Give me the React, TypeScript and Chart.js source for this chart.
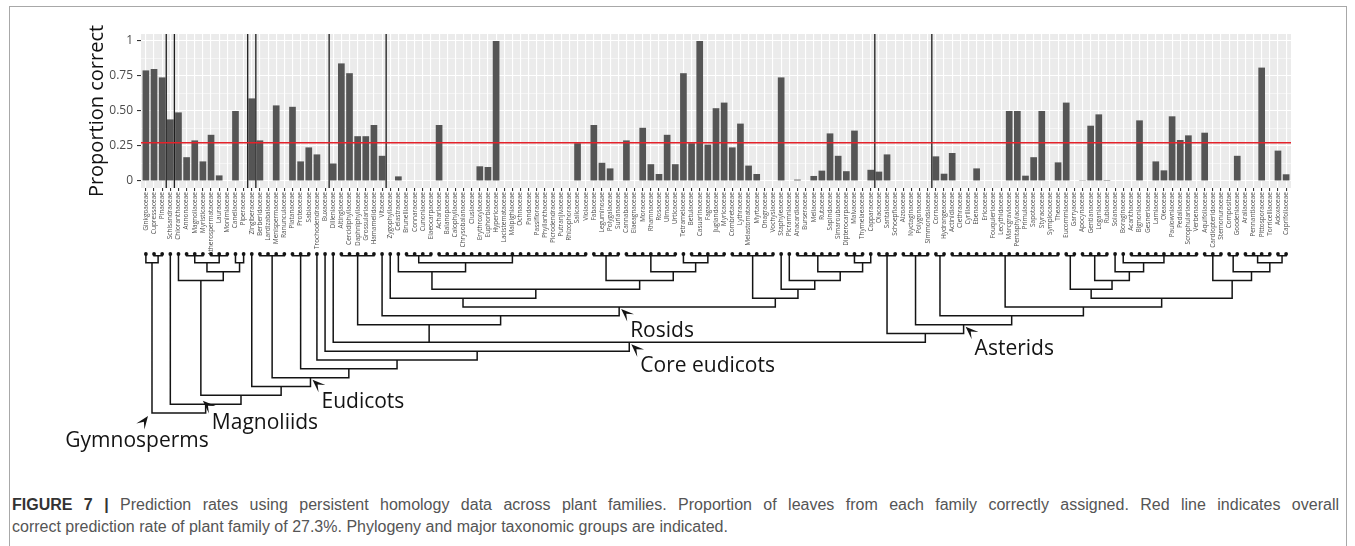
import { useEffect, useRef } from "react";
import { Chart, registerables } from "chart.js";

Chart.register(...registerables);

// Plant families in phylogenetic order (x axis)
const families = [
  "Ginkgoaceae", "Cupressaceae", "Pinaceae", "Schisandraceae", "Chloranthaceae", "Annonaceae",
  "Magnoliaceae", "Myristicaceae", "Atherospermataceae", "Lauraceae", "Monimiaceae", "Canellaceae",
  "Piperaceae", "Zingiberaceae", "Berberidaceae", "Lardizabalaceae", "Menispermaceae", "Ranunculaceae",
  "Platanaceae", "Proteaceae", "Sabiaceae", "Trochodendraceae", "Buxaceae", "Dilleniaceae",
  "Altingiaceae", "Cercidiphyllaceae", "Daphniphyllaceae", "Grossulariaceae", "Hamamelidaceae", "Vitaceae",
  "Zygophyllaceae", "Celastraceae", "Brunelliaceae", "Connaraceae", "Cunoniaceae", "Elaeocarpaceae",
  "Achariaceae", "Balanopaceae", "Calophyllaceae", "Chrysobalanaceae", "Clusiaceae", "Erythroxylaceae",
  "Euphorbiaceae", "Hypericaceae", "Lacistemataceae", "Malpighiaceae", "Ochnaceae", "Pandaceae",
  "Passifloraceae", "Phyllanthaceae", "Picrodendraceae", "Putranjivaceae", "Rhizophoraceae", "Salicaceae",
  "Violaceae", "Fabaceae", "Leguminosae", "Polygalaceae", "Surianaceae", "Cannabaceae",
  "Elaeagnaceae", "Moraceae", "Rhamnaceae", "Rosaceae", "Ulmaceae", "Urticaceae",
  "Tetramelaceae", "Betulaceae", "Casuarinaceae", "Fagaceae", "Juglandaceae", "Myricaceae",
  "Combretaceae", "Lythraceae", "Melastomataceae", "Myrtaceae", "Onagraceae", "Vochysiaceae",
  "Staphyleaceae", "Picramniaceae", "Anacardiaceae", "Burseraceae", "Meliaceae", "Rutaceae",
  "Sapindaceae", "Simaroubaceae", "Dipterocarpaceae", "Malvaceae", "Thymelaeaceae", "Capparaceae",
  "Olacaceae", "Santalaceae", "Schoepfiaceae", "Aizoaceae", "Nyctaginaceae", "Polygonaceae",
  "Simmondsiaceae", "Cornaceae", "Hydrangeaceae", "Actinidiaceae", "Clethraceae", "Cyrillaceae",
  "Ebenaceae", "Ericaceae", "Fouquieriaceae", "Lecythidaceae", "Marcgraviaceae", "Pentaphylacaceae",
  "Primulaceae", "Sapotaceae", "Styracaceae", "Symplocaceae", "Theaceae", "Eucommiaceae",
  "Garryaceae", "Apocynaceae", "Gentianaceae", "Loganiaceae", "Rubiaceae", "Solanaceae",
  "Boraginaceae", "Acanthaceae", "Bignoniaceae", "Gesneriaceae", "Lamiaceae", "Oleaceae",
  "Paulowniaceae", "Pedaliaceae", "Scrophulariaceae", "Verbenaceae", "Aquifoliaceae", "Cardiopteridaceae",
  "Stemonuraceae", "Compositae", "Goodeniaceae", "Araliaceae", "Pennantiaceae", "Pittosporaceae",
  "Torricelliaceae", "Adoxaceae", "Caprifoliaceae",
];

// Proportion of leaves correctly assigned, one value per family
const proportionCorrect = [
  0.79, 0.8, 0.74, 0.44, 0.49, 0.17,
  0.29, 0.14, 0.33, 0.04, 0, 0.5,
  0, 0.59, 0.29, 0, 0.54, 0,
  0.53, 0.14, 0.24, 0.19, 0, 0.125,
  0.84, 0.77, 0.32, 0.32, 0.4, 0.18,
  0, 0.033, 0, 0, 0, 0,
  0.4, 0, 0, 0, 0, 0.105,
  0.1, 1, 0, 0, 0, 0,
  0, 0, 0, 0, 0, 0.27,
  0, 0.4, 0.13, 0.09, 0, 0.29,
  0, 0.38, 0.12, 0.05, 0.33, 0.12,
  0.77, 0.27, 1, 0.26, 0.52, 0.56,
  0.24, 0.41, 0.11, 0.05, 0, 0,
  0.74, 0, 0.01, 0, 0.036, 0.074,
  0.34, 0.18, 0.07, 0.36, 0, 0.08,
  0.067, 0.19, 0, 0, 0, 0,
  0, 0.176, 0.052, 0.2, 0, 0,
  0.09, 0, 0, 0, 0.5, 0.5,
  0.038, 0.17, 0.5, 0, 0.133, 0.56,
  0, 0.006, 0.395, 0.476, 0.007, 0,
  0, 0, 0.433, 0, 0.14, 0.076,
  0.462, 0.293, 0.326, 0, 0.345, 0,
  0, 0, 0.18, 0, 0, 0.81,
  0, 0.217, 0.048,
];

// Overall correct prediction rate (red reference line)
const overallRate = 0.273;

// Y axis breaks
const yMajorTicks = [0, 0.25, 0.5, 0.75, 1];
const yMajorLabels = ["0", "0.25", "0.50", "0.75", "1"];
const yMinorTicks = [0.125, 0.375, 0.625, 0.875];

// Positions (between families) of the black separator lines
const cladeDividers = [2.5, 3.5, 12.5, 13.5, 22.5, 29.5, 89.5, 96.5];

// ---- Phylogeny: internal nodes carry a height rank, leaves are family indices ----
type TreeNode = { h: number; kids: (TreeNode | number)[]; x?: number };
const clade = (h: number, ...kids: (TreeNode | number)[]): TreeNode => ({ h, kids });
const run = (h: number, first: number, last: number): TreeNode => {
  const kids: number[] = [];
  for (let i = first; i <= last; i++) kids.push(i);
  return clade(h, ...kids);
};
const TIP = 0.2;

const gymnosperms = clade(1, 0, clade(TIP, 1, 2));
const magnoliidClade = clade(3, 4, clade(2, clade(1, run(TIP, 5, 7), run(TIP, 8, 10)), clade(1, 11, 12)));
const comClade = clade(2, 31, clade(1, run(TIP, 32, 35), run(TIP, 36, 54)));
const nitrogenFixing = clade(3, run(TIP, 55, 58), clade(2, run(TIP, 59, 65), clade(1, 66, run(TIP, 67, 71))));
const fabids = clade(5, 30, clade(4, comClade, nitrogenFixing));
const malvids = clade(5, run(TIP, 72, 77), clade(4, 78, clade(3, 79, clade(2, run(TIP, 80, 85), clade(1, run(TIP, 86, 88), 89)))));
const eurosids = clade(6, fabids, malvids);
const superrosids = clade(8, run(TIP, 24, 28), clade(7, 29, eurosids));
const lamiids = clade(4, run(TIP, 113, 114), clade(3, run(TIP, 115, 118), clade(2, 119, clade(1, 120, run(TIP, 121, 129)))));
const campanulids = clade(3, run(TIP, 130, 132), clade(2, run(TIP, 133, 134), clade(1, run(TIP, 135, 138), run(TIP, 139, 140))));
const asteridClade = clade(8, run(TIP, 93, 96), clade(7, run(TIP, 97, 98), clade(6, run(TIP, 99, 112), clade(5, lamiids, campanulids))));
const superasterids = clade(9, run(TIP, 90, 92), asteridClade);
const coreEudicots = clade(10, 23, superrosids, superasterids);
const eudicots = clade(14, run(TIP, 14, 17), clade(13, run(TIP, 18, 20), clade(12, 21, clade(11, 22, coreEudicots))));
const angiosperms = clade(17, 3, clade(16, magnoliidClade, clade(15, 13, eudicots)));
const seedPlants = clade(18, gymnosperms, angiosperms);

// Clade names, the node each arrow points at, and the height rank of the arrow tip
const cladeNames = ["Gymnosperms", "Magnoliids", "Eudicots", "Core eudicots", "Rosids", "Asterids"];
const cladeNodes = [gymnosperms, magnoliidClade, eudicots, coreEudicots, eurosids, asteridClade];
const cladeArrowRanks = [18, 16.4, 14, 10, 6, 8];

type Pt = { x: number; y: number };
const GAP: Pt = { x: NaN, y: NaN };

function placeNode(n: TreeNode | number): { x: number; h: number } {
  if (typeof n === "number") return { x: n, h: 0 };
  const kids = n.kids.map(placeNode);
  n.x = (kids[0].x + kids[kids.length - 1].x) / 2;
  return { x: n.x, h: n.h };
}

function treeSegments(n: TreeNode | number, out: Pt[]): Pt[] {
  if (typeof n === "number") return out;
  const kids = n.kids.map((k) => (typeof k === "number" ? { x: k, h: 0 } : { x: k.x as number, h: k.h }));
  const first = kids[0];
  const last = kids[kids.length - 1];
  out.push({ x: first.x, y: first.h }, { x: first.x, y: n.h }, { x: last.x, y: n.h }, { x: last.x, y: last.h }, GAP);
  for (let i = 1; i < kids.length - 1; i++) {
    out.push({ x: kids[i].x, y: kids[i].h }, { x: kids[i].x, y: n.h }, GAP);
  }
  n.kids.forEach((k) => treeSegments(k, out));
  return out;
}

const panelBackground = {
  id: "panelBackground",
  beforeDraw(chart: any) {
    const { ctx, chartArea: a } = chart;
    ctx.save();
    ctx.fillStyle = "#ebebeb";
    ctx.fillRect(a.left, a.top, a.right - a.left, a.bottom - a.top);
    ctx.restore();
  },
};

function drawArrowHead(ctx: CanvasRenderingContext2D, x: number, y: number, angle: number) {
  const len = 13;
  const notch = 7;
  const half = 5;
  ctx.save();
  ctx.translate(x, y);
  ctx.rotate(angle);
  ctx.beginPath();
  ctx.moveTo(0, 0);
  ctx.lineTo(-len, -half);
  ctx.lineTo(-notch, 0);
  ctx.lineTo(-len, half);
  ctx.closePath();
  ctx.fill();
  ctx.restore();
}

const cladeLabels = {
  id: "cladeLabels",
  afterDraw(chart: any) {
    const { ctx } = chart;
    const xs = chart.scales.x;
    const ys = chart.scales.y;
    ctx.save();
    ctx.fillStyle = "#141414";
    ctx.font = '21px "Open Sans"';
    ctx.textBaseline = "alphabetic";
    cladeNames.forEach((name, i) => {
      const node = cladeNodes[i];
      const px = xs.getPixelForValue(node.x);
      const py = ys.getPixelForValue(cladeArrowRanks[i]);
      if (i === 0) {
        // the gymnosperm arrow sits under the root, pointing up to the stem
        const tx = px - 4;
        const ty = py + 3;
        drawArrowHead(ctx, tx, ty, -Math.PI * 0.3);
        ctx.textAlign = "center";
        ctx.fillText(name, tx - 11, ty + 31);
      } else {
        const tx = px + 2;
        const ty = py + 2;
        drawArrowHead(ctx, tx, ty, -Math.PI * 0.76);
        ctx.textAlign = "left";
        ctx.fillText(name, tx + 9, ty + 28);
      }
    });
    ctx.restore();
  },
};

export default function App() {
  const barRef = useRef<HTMLCanvasElement>(null);
  const treeRef = useRef<HTMLCanvasElement>(null);

  useEffect(() => {
    const barPoints = families.map((_, i) => ({ x: i, y: proportionCorrect[i] }));
    const dividerPoints: Pt[] = [];
    cladeDividers.forEach((d) => dividerPoints.push({ x: d, y: -0.05 }, { x: d, y: 1.05 }, GAP));

    const isMajor = (v: number) => yMajorTicks.includes(v);

    const barChart = new Chart(barRef.current as HTMLCanvasElement, {
      type: "bar",
      data: {
        datasets: [
          {
            type: "line",
            data: [
              { x: -0.6, y: overallRate },
              { x: 140.6, y: overallRate },
            ],
            borderColor: "#e3222b",
            borderWidth: 1.5,
            pointRadius: 0,
            order: 1,
          } as any,
          {
            type: "line",
            data: dividerPoints,
            borderColor: "#1e1e1e",
            borderWidth: 1.3,
            pointRadius: 0,
            spanGaps: false,
            order: 2,
          } as any,
          {
            type: "bar",
            data: barPoints,
            backgroundColor: "#555555",
            barPercentage: 0.82,
            categoryPercentage: 1,
            order: 3,
          } as any,
        ],
      },
      options: {
        responsive: false,
        animation: false,
        layout: { padding: { left: 81, right: 64, top: 34, bottom: 0 } },
        plugins: { legend: { display: false }, tooltip: { enabled: false } },
        scales: {
          x: {
            type: "linear",
            min: -0.6,
            max: 140.6,
            offset: false,
            afterBuildTicks: (s: any) => {
              s.ticks = families.map((_, i) => ({ value: i }));
            },
            afterFit: (s: any) => {
              s.height = 67;
            },
            ticks: {
              autoSkip: false,
              minRotation: 90,
              maxRotation: 90,
              padding: 1,
              color: "#4d4d4d",
              font: { family: "Open Sans", size: 6.5 },
              callback: (v: any) => families[v as number],
            },
            grid: { color: "#ffffff", lineWidth: 1.1, tickLength: 3, tickColor: "#333333", offset: false },
            border: { display: false },
          },
          y: {
            type: "linear",
            min: -0.05,
            max: 1.05,
            afterBuildTicks: (s: any) => {
              s.ticks = [...yMajorTicks, ...yMinorTicks].sort((a, b) => a - b).map((v) => ({ value: v }));
            },
            afterFit: (s: any) => {
              s.width = 60;
            },
            ticks: {
              padding: 4,
              color: "#4d4d4d",
              font: { family: "Open Sans", size: 12 },
              callback: (v: any) => {
                const k = yMajorTicks.indexOf(v as number);
                return k >= 0 ? yMajorLabels[k] : "";
              },
            },
            grid: {
              color: "#ffffff",
              lineWidth: (c: any) => (isMajor(c.tick.value) ? 1.1 : 0.5),
              tickLength: 4,
              tickColor: (c: any) => (isMajor(c.tick.value) ? "#333333" : "rgba(0,0,0,0)"),
            },
            border: { display: false },
            title: {
              display: true,
              text: "Proportion correct",
              color: "#111",
              font: { family: "Open Sans", size: 20 },
              padding: { top: 4, bottom: 0 },
            },
          },
        },
      } as any,
      plugins: [panelBackground],
    });

    const area = barChart.chartArea;
    placeNode(seedPlants);
    const segments = treeSegments(seedPlants, []);
    const tips = families.map((_, i) => ({ x: i, y: 0 }));

    const treeChart = new Chart(treeRef.current as HTMLCanvasElement, {
      type: "scatter",
      data: {
        datasets: [
          {
            data: segments,
            showLine: true,
            borderColor: "#141414",
            borderWidth: 1.5,
            pointRadius: 0,
            spanGaps: false,
            borderJoinStyle: "miter",
            borderCapStyle: "square",
            clip: false,
          } as any,
          {
            data: tips,
            pointRadius: 1.9,
            pointBackgroundColor: "#141414",
            pointBorderWidth: 0,
            clip: false,
          } as any,
        ],
      },
      options: {
        responsive: false,
        animation: false,
        layout: { padding: { left: area.left, right: 1355 - area.right, top: 14, bottom: 57 } },
        plugins: { legend: { display: false }, tooltip: { enabled: false } },
        scales: {
          x: { type: "linear", min: -0.6, max: 140.6, display: false },
          y: { type: "linear", min: 0, max: 18, reverse: true, display: false },
        },
      } as any,
      plugins: [cladeLabels],
    });

    return () => {
      barChart.destroy();
      treeChart.destroy();
    };
  }, []);

  return (
    <div
      style={{
        position: "absolute",
        left: 0,
        top: 0,
        width: 1355,
        height: 546,
        overflow: "hidden",
        background: "#ffffff",
      }}
    >
      <div
        style={{
          position: "absolute",
          left: 9,
          top: 6,
          width: 1336,
          height: 600,
          border: "1px solid #a8a8a8",
        }}
      />
      <canvas ref={barRef} width={1355} height={255} style={{ position: "absolute", left: 0, top: 0 }} />
      <canvas ref={treeRef} width={1355} height={230} style={{ position: "absolute", left: 0, top: 240 }} />
      <div
        style={{
          position: "absolute",
          left: 12,
          top: 494,
          width: 1327,
          fontFamily: '"Liberation Sans", Arial, sans-serif',
          fontSize: 16,
          lineHeight: "22px",
          color: "#555555",
        }}
      >
        <div style={{ textAlign: "justify", textAlignLast: "justify" }}>
          <b style={{ color: "#333333" }}>FIGURE 7 |</b> Prediction rates using persistent homology data across
          plant families. Proportion of leaves from each family correctly assigned. Red line indicates overall
        </div>
        <div style={{ whiteSpace: "nowrap" }}>
          correct prediction rate of plant family of 27.3%. Phylogeny and major taxonomic groups are indicated.
        </div>
      </div>
    </div>
  );
}
